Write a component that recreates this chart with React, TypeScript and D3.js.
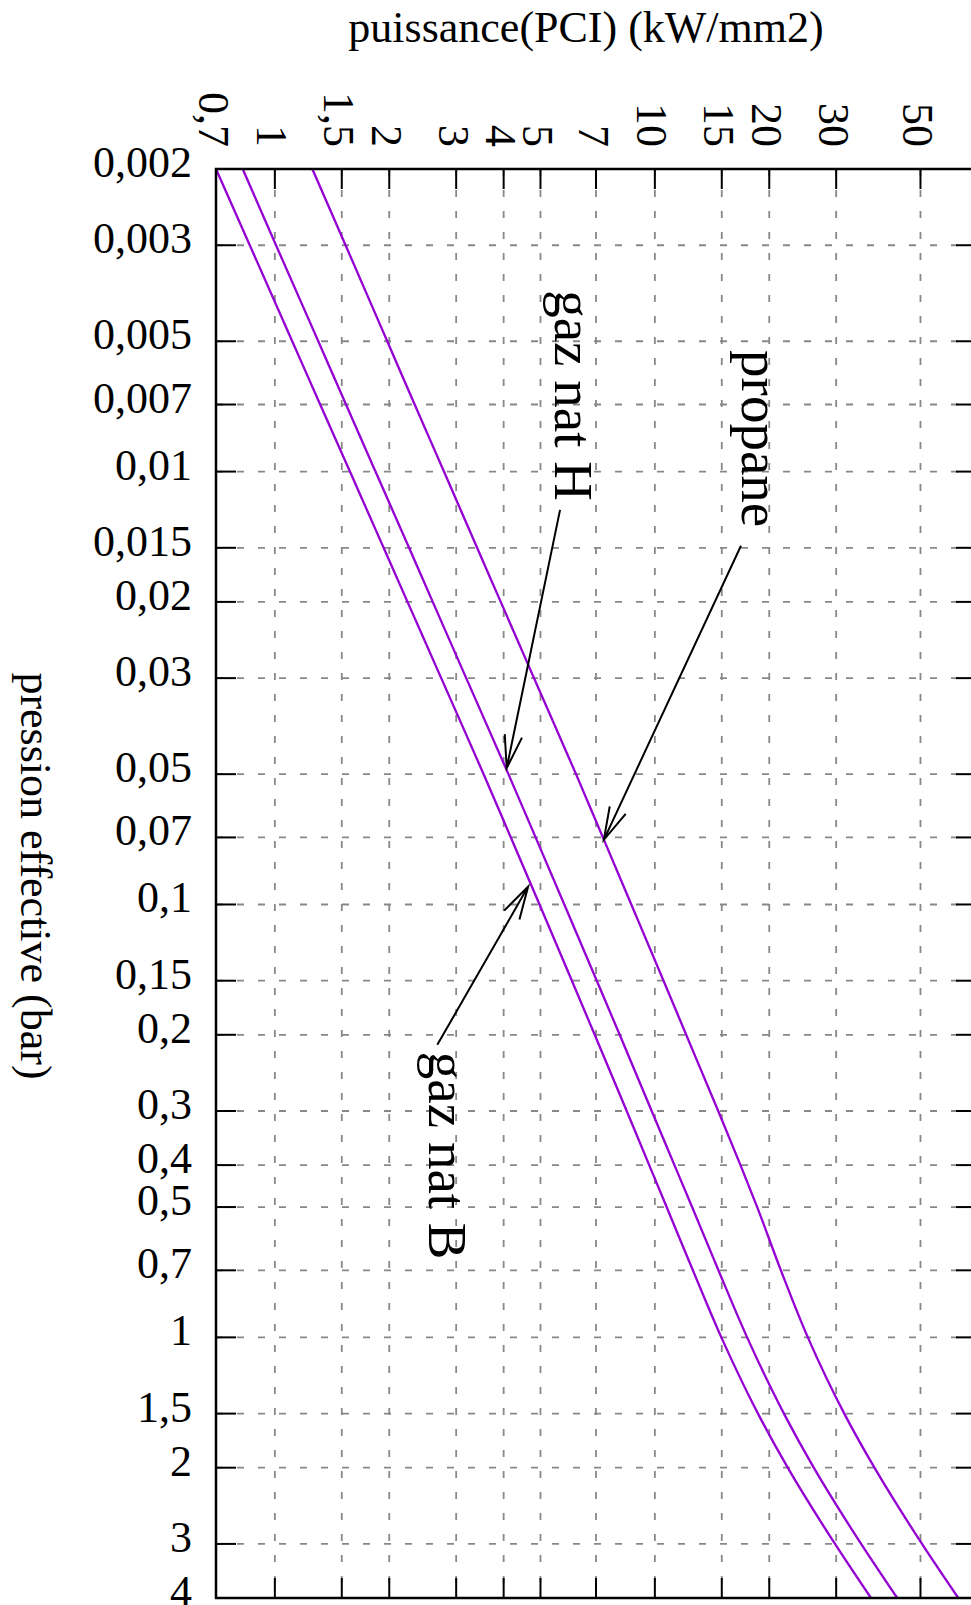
import * as d3 from 'd3'

// pression effective (bar) sampled on the y grid lines
const pressures = [0.002, 0.003, 0.005, 0.007, 0.01, 0.015, 0.02, 0.03, 0.05, 0.07, 0.1, 0.15, 0.2, 0.3, 0.4, 0.5, 0.7, 1, 1.5, 2, 3, 4]

// puissance (kW/mm2)
const gazNatB = [0.7, 0.859, 1.111, 1.316, 1.576, 1.933, 2.234, 2.74, 3.543, 4.177, 4.971, 6.049, 6.945, 8.431, 9.663, 10.74, 12.59, 14.96, 18.68, 22.37, 29.79, 37.05]
const gazNatH = [0.823, 1.007, 1.301, 1.539, 1.84, 2.255, 2.603, 3.188, 4.118, 4.855, 5.777, 7.034, 8.081, 9.81, 11.26, 12.53, 14.7, 17.49, 21.86, 26.19, 34.9, 43.43]
const propane = [1.255, 1.535, 1.976, 2.333, 2.786, 3.406, 3.93, 4.808, 6.202, 7.298, 8.67, 10.54, 12.09, 14.68, 16.8, 18.59, 21.46, 25.27, 31.51, 37.83, 50.47, 62.88]

const xTicks = [0.7, 1, 1.5, 2, 3, 4, 5, 7, 10, 15, 20, 30, 50]
const xTickLabels = ['0,7', '1', '1,5', '2', '3', '4', '5', '7', '10', '15', '20', '30', '50']
const yTicks = [0.002, 0.003, 0.005, 0.007, 0.01, 0.015, 0.02, 0.03, 0.05, 0.07, 0.1, 0.15, 0.2, 0.3, 0.4, 0.5, 0.7, 1, 1.5, 2, 3, 4]
const yTickLabels = ['0,002', '0,003', '0,005', '0,007', '0,01', '0,015', '0,02', '0,03', '0,05', '0,07', '0,1', '0,15', '0,2', '0,3', '0,4', '0,5', '0,7', '1', '1,5', '2', '3', '4']

// labels: [text, kW at baseline, pressure at text start]
const labels: [string, number, number][] = [
  ['propane', 16.96, 0.00524],
  ['gaz nat H', 5.46, 0.00381],
  ['gaz nat B', 2.545, 0.219],
]
// arrows: [kW from, p from, kW to, p to]
const arrows: [number, number, number, number][] = [
  [16.85, 0.01484, 7.34, 0.0709],
  [5.63, 0.01226, 4.075, 0.0484],
  [2.676, 0.211, 4.64, 0.0909],
]

const W = 971
const H = 1605
const margin = { top: 169, left: 216 }
const innerW = 760
const innerH = 1429
const FONT = '"Liberation Serif", "Times New Roman", serif'
const PURPLE = '#9400d3'

export default function App() {
  const x = d3.scaleLog().domain([0.7, 70]).range([margin.left, margin.left + innerW])
  const y = d3.scaleLog().domain([0.002, 4]).range([margin.top, margin.top + innerH])
  const x0 = x.range()[0], x1 = x.range()[1]
  const y0 = y.range()[0], y1 = y.range()[1]

  const line = d3.line<[number, number]>()
    .x(d => x(d[0]))
    .y(d => y(d[1]))
    .curve(d3.curveMonotoneY)

  const series = [gazNatB, gazNatH, propane].map(vals => vals.map((v, i) => [v, pressures[i]] as [number, number]))

  const tick = 20
  const headLen = 34
  const headAng = Math.PI / 12

  return (
    <>
      <style>{'body{margin:0}'}</style>
      <svg width={W} height={H} style={{ display: 'block', fontFamily: FONT }}>
        <rect width={W} height={H} fill="#fff" />

        {/* grid */}
        <g stroke="#888" strokeWidth={1.8} strokeDasharray="7,14" fill="none">
          {xTicks.map(t => (
            <line key={'gx' + t} x1={x(t)} x2={x(t)} y1={y0} y2={y1} />
          ))}
          {yTicks.map(t => (
            <line key={'gy' + t} x1={x0} x2={x1} y1={y(t)} y2={y(t)} />
          ))}
        </g>

        {/* curves */}
        <g fill="none" stroke={PURPLE} strokeWidth={2.3}>
          {series.map((s, i) => <path key={i} d={line(s) ?? ''} />)}
        </g>

        {/* ticks */}
        <g stroke="#000" strokeWidth={2}>
          {xTicks.map(t => (
            <g key={'tx' + t}>
              <line x1={x(t)} x2={x(t)} y1={y0} y2={y0 + tick} />
              <line x1={x(t)} x2={x(t)} y1={y1} y2={y1 - tick} />
            </g>
          ))}
          {yTicks.map(t => (
            <g key={'ty' + t}>
              <line x1={x0} x2={x0 + tick} y1={y(t)} y2={y(t)} />
              <line x1={x1} x2={x1 - tick} y1={y(t)} y2={y(t)} />
            </g>
          ))}
        </g>

        {/* border */}
        <rect x={x0} y={y0} width={x1 - x0} height={y1 - y0} fill="none" stroke="#000" strokeWidth={2.5} />

        {/* tick labels */}
        <g fontSize={44} fill="#000">
          {xTicks.map((t, i) => (
            <text key={'lx' + t} transform={`translate(${x(t) - 17.5},147) rotate(90)`} textAnchor="end">
              {xTickLabels[i]}
            </text>
          ))}
          {yTicks.map((t, i) => (
            <text key={'ly' + t} x={192} y={y(t) + 8} textAnchor="end">
              {yTickLabels[i]}
            </text>
          ))}
        </g>

        {/* axis titles */}
        <text x={586} y={42} fontSize={44} textAnchor="middle">puissance(PCI) (kW/mm2)</text>
        <text transform="translate(21,876) rotate(90)" fontSize={44} textAnchor="middle">pression effective (bar)</text>

        {/* annotations */}
        <g fontSize={55} fill="#000">
          {labels.map(([txt, k, p]) => (
            <text key={txt} transform={`translate(${x(k)},${y(p)}) rotate(90)`}>{txt}</text>
          ))}
        </g>
        <g stroke="#000" strokeWidth={2} fill="none">
          {arrows.map(([ka, pa, kb, pb], i) => {
            const ax = x(ka), ay = y(pa), bx = x(kb), by = y(pb)
            const ang = Math.atan2(by - ay, bx - ax)
            const w1x = bx - headLen * Math.cos(ang - headAng)
            const w1y = by - headLen * Math.sin(ang - headAng)
            const w2x = bx - headLen * Math.cos(ang + headAng)
            const w2y = by - headLen * Math.sin(ang + headAng)
            return (
              <path key={i} d={`M${ax},${ay}L${bx},${by}M${w1x},${w1y}L${bx},${by}L${w2x},${w2y}`} />
            )
          })}
        </g>
      </svg>
    </>
  )
}
